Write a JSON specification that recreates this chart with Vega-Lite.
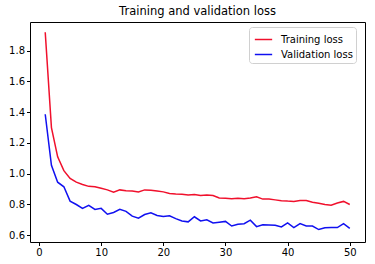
{
  "$schema": "https://vega.github.io/schema/vega-lite/v6.json",
  "autosize": "none",
  "width": 335,
  "height": 220,
  "padding": {"left": 30, "top": 22, "right": 10, "bottom": 22},
  "background": "white",
  "config": {
    "font": "DejaVu Sans",
    "view": {"stroke": "#000", "strokeWidth": 1},
    "axis": {"grid": false, "domain": false, "tickColor": "#000", "tickSize": 3.5, "labelColor": "#000", "labelFontSize": 10, "labelFont": "DejaVu Sans", "title": null, "labelPadding": 2}
  },
  "title": {"text": "Training and validation loss", "fontSize": 11.5, "fontWeight": "normal", "font": "DejaVu Sans", "color": "#000", "offset": 5},
  "data": {"values": [
    {"epoch": 1, "series": "Training loss", "loss": 1.92},
    {"epoch": 2, "series": "Training loss", "loss": 1.30},
    {"epoch": 3, "series": "Training loss", "loss": 1.11},
    {"epoch": 4, "series": "Training loss", "loss": 1.02},
    {"epoch": 5, "series": "Training loss", "loss": 0.97},
    {"epoch": 6, "series": "Training loss", "loss": 0.945},
    {"epoch": 7, "series": "Training loss", "loss": 0.93},
    {"epoch": 8, "series": "Training loss", "loss": 0.918},
    {"epoch": 9, "series": "Training loss", "loss": 0.915},
    {"epoch": 10, "series": "Training loss", "loss": 0.905},
    {"epoch": 11, "series": "Training loss", "loss": 0.895},
    {"epoch": 12, "series": "Training loss", "loss": 0.88},
    {"epoch": 13, "series": "Training loss", "loss": 0.895},
    {"epoch": 14, "series": "Training loss", "loss": 0.89},
    {"epoch": 15, "series": "Training loss", "loss": 0.888},
    {"epoch": 16, "series": "Training loss", "loss": 0.882},
    {"epoch": 17, "series": "Training loss", "loss": 0.895},
    {"epoch": 18, "series": "Training loss", "loss": 0.893},
    {"epoch": 19, "series": "Training loss", "loss": 0.888},
    {"epoch": 20, "series": "Training loss", "loss": 0.882},
    {"epoch": 21, "series": "Training loss", "loss": 0.872},
    {"epoch": 22, "series": "Training loss", "loss": 0.868},
    {"epoch": 23, "series": "Training loss", "loss": 0.866},
    {"epoch": 24, "series": "Training loss", "loss": 0.862},
    {"epoch": 25, "series": "Training loss", "loss": 0.865},
    {"epoch": 26, "series": "Training loss", "loss": 0.858},
    {"epoch": 27, "series": "Training loss", "loss": 0.862},
    {"epoch": 28, "series": "Training loss", "loss": 0.858},
    {"epoch": 29, "series": "Training loss", "loss": 0.842},
    {"epoch": 30, "series": "Training loss", "loss": 0.84},
    {"epoch": 31, "series": "Training loss", "loss": 0.838},
    {"epoch": 32, "series": "Training loss", "loss": 0.84},
    {"epoch": 33, "series": "Training loss", "loss": 0.838},
    {"epoch": 34, "series": "Training loss", "loss": 0.842},
    {"epoch": 35, "series": "Training loss", "loss": 0.85},
    {"epoch": 36, "series": "Training loss", "loss": 0.835},
    {"epoch": 37, "series": "Training loss", "loss": 0.835},
    {"epoch": 38, "series": "Training loss", "loss": 0.83},
    {"epoch": 39, "series": "Training loss", "loss": 0.825},
    {"epoch": 40, "series": "Training loss", "loss": 0.822},
    {"epoch": 41, "series": "Training loss", "loss": 0.82},
    {"epoch": 42, "series": "Training loss", "loss": 0.826},
    {"epoch": 43, "series": "Training loss", "loss": 0.826},
    {"epoch": 44, "series": "Training loss", "loss": 0.815},
    {"epoch": 45, "series": "Training loss", "loss": 0.808},
    {"epoch": 46, "series": "Training loss", "loss": 0.8},
    {"epoch": 47, "series": "Training loss", "loss": 0.795},
    {"epoch": 48, "series": "Training loss", "loss": 0.81},
    {"epoch": 49, "series": "Training loss", "loss": 0.82},
    {"epoch": 50, "series": "Training loss", "loss": 0.8},
    {"epoch": 1, "series": "Validation loss", "loss": 1.387},
    {"epoch": 2, "series": "Validation loss", "loss": 1.055},
    {"epoch": 3, "series": "Validation loss", "loss": 0.945},
    {"epoch": 4, "series": "Validation loss", "loss": 0.915},
    {"epoch": 5, "series": "Validation loss", "loss": 0.822},
    {"epoch": 6, "series": "Validation loss", "loss": 0.8},
    {"epoch": 7, "series": "Validation loss", "loss": 0.775},
    {"epoch": 8, "series": "Validation loss", "loss": 0.794},
    {"epoch": 9, "series": "Validation loss", "loss": 0.768},
    {"epoch": 10, "series": "Validation loss", "loss": 0.775},
    {"epoch": 11, "series": "Validation loss", "loss": 0.737},
    {"epoch": 12, "series": "Validation loss", "loss": 0.748},
    {"epoch": 13, "series": "Validation loss", "loss": 0.768},
    {"epoch": 14, "series": "Validation loss", "loss": 0.755},
    {"epoch": 15, "series": "Validation loss", "loss": 0.724},
    {"epoch": 16, "series": "Validation loss", "loss": 0.711},
    {"epoch": 17, "series": "Validation loss", "loss": 0.735},
    {"epoch": 18, "series": "Validation loss", "loss": 0.746},
    {"epoch": 19, "series": "Validation loss", "loss": 0.728},
    {"epoch": 20, "series": "Validation loss", "loss": 0.722},
    {"epoch": 21, "series": "Validation loss", "loss": 0.727},
    {"epoch": 22, "series": "Validation loss", "loss": 0.708},
    {"epoch": 23, "series": "Validation loss", "loss": 0.693},
    {"epoch": 24, "series": "Validation loss", "loss": 0.687},
    {"epoch": 25, "series": "Validation loss", "loss": 0.72},
    {"epoch": 26, "series": "Validation loss", "loss": 0.693},
    {"epoch": 27, "series": "Validation loss", "loss": 0.7},
    {"epoch": 28, "series": "Validation loss", "loss": 0.68},
    {"epoch": 29, "series": "Validation loss", "loss": 0.685},
    {"epoch": 30, "series": "Validation loss", "loss": 0.69},
    {"epoch": 31, "series": "Validation loss", "loss": 0.66},
    {"epoch": 32, "series": "Validation loss", "loss": 0.672},
    {"epoch": 33, "series": "Validation loss", "loss": 0.675},
    {"epoch": 34, "series": "Validation loss", "loss": 0.698},
    {"epoch": 35, "series": "Validation loss", "loss": 0.656},
    {"epoch": 36, "series": "Validation loss", "loss": 0.668},
    {"epoch": 37, "series": "Validation loss", "loss": 0.667},
    {"epoch": 38, "series": "Validation loss", "loss": 0.665},
    {"epoch": 39, "series": "Validation loss", "loss": 0.654},
    {"epoch": 40, "series": "Validation loss", "loss": 0.68},
    {"epoch": 41, "series": "Validation loss", "loss": 0.65},
    {"epoch": 42, "series": "Validation loss", "loss": 0.676},
    {"epoch": 43, "series": "Validation loss", "loss": 0.66},
    {"epoch": 44, "series": "Validation loss", "loss": 0.66},
    {"epoch": 45, "series": "Validation loss", "loss": 0.637},
    {"epoch": 46, "series": "Validation loss", "loss": 0.648},
    {"epoch": 47, "series": "Validation loss", "loss": 0.65},
    {"epoch": 48, "series": "Validation loss", "loss": 0.65},
    {"epoch": 49, "series": "Validation loss", "loss": 0.676},
    {"epoch": 50, "series": "Validation loss", "loss": 0.645}
  ]},
  "mark": {"type": "line", "strokeWidth": 1.5},
  "encoding": {
    "x": {"field": "epoch", "type": "quantitative", "scale": {"domain": [-1.45, 52.45], "nice": false, "zero": false}, "axis": {"values": [0, 10, 20, 30, 40, 50]}},
    "y": {"field": "loss", "type": "quantitative", "scale": {"domain": [0.556, 1.987], "nice": false, "zero": false}, "axis": {"values": [0.6, 0.8, 1.0, 1.2, 1.4, 1.6, 1.8], "format": ".1f"}},
    "color": {"field": "series", "type": "nominal", "scale": {"domain": ["Training loss", "Validation loss"], "range": ["#f0102c", "#1010f0"]},
      "legend": {"title": null, "orient": "none", "legendX": 219, "legendY": 5, "symbolType": "stroke", "symbolSize": 300, "symbolStrokeWidth": 1.5, "labelFontSize": 10, "labelColor": "#000", "strokeColor": "#d0d0d0", "fillColor": "white", "padding": 3, "cornerRadius": 3, "rowPadding": 0, "labelOffset": 8, "symbolOffset": 2}}
  }
}
